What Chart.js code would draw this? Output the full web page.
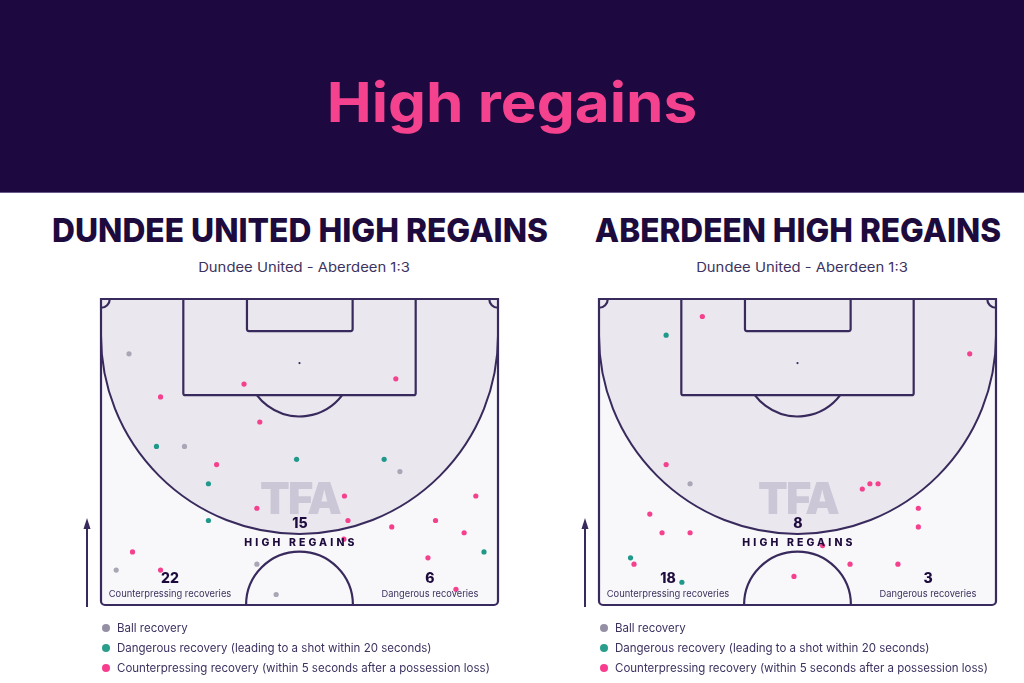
<!DOCTYPE html>
<html>
<head>
<meta charset="utf-8">
<script src="https://cdn.jsdelivr.net/npm/chart.js@4.4.1/dist/chart.umd.min.js"></script>
<style>
  body { margin: 0; width: 1024px; height: 683px; background: #fff; overflow: hidden; position: relative; font-family: Inter, "Noto Sans", sans-serif; }
  .header { position: absolute; left: 0; top: 0; width: 1024px; height: 192px; background: #1d0940; border-bottom: 1px solid #6a5a8a; }
  .t { position: absolute; white-space: nowrap; transform: translate(-50%, -50%); line-height: 1; }
  .main { font-size: 55px; font-weight: 700; color: #f5428f; }
  .ptitle { font-size: 33px; font-weight: 800; color: #1e0b3e; }
  .sub { font-size: 13px; color: #3d3260; }
  .big { font-size: 14px; font-weight: 800; color: #1e0b3e; }
  .lab { font-size: 9.5px; color: #3d3260; }
  .hr { font-size: 10px; font-weight: 800; color: #1e0b3e; letter-spacing: 3px; }
  .wm { font-size: 44px; font-weight: 900; color: rgba(150, 140, 170, 0.35); letter-spacing: -2px; }
  .pitch { position: absolute; }
  .legend { position: absolute; font-size: 11.5px; color: #3d3260; }
  .legend div { height: 20px; line-height: 20px; position: relative; padding-left: 17px; white-space: nowrap; }
  .legend span { position: absolute; left: 1.5px; top: 6px; width: 8px; height: 8px; border-radius: 50%; }
</style>
</head>
<body>
<div class="header"></div>
<div class="pitch" style="left:71px; top:289px; width:437px; height:326px;"><canvas id="pitch1"></canvas></div>
<div class="pitch" style="left:569px; top:289px; width:437px; height:326px;"><canvas id="pitch2"></canvas></div>
<script>
// recoveries, in metres: x across the pitch (0-68), y up from the halfway line (0-52.5)
const dundeeBall = [[4.8, 43.1], [14.3, 27.2], [51.2, 22.9], [26.7, 7.0], [2.6, 6.0], [30.0, 1.8]];
const dundeeDanger = [[9.5, 27.2], [33.5, 25.0], [48.5, 25.0], [18.4, 20.8], [18.4, 14.5], [65.6, 9.1]];
const dundeeCounter = [[24.5, 37.9], [50.5, 38.8], [10.2, 35.7], [27.2, 31.4], [19.8, 24.1], [41.7, 18.7],
    [64.2, 18.7], [26.7, 16.6], [42.3, 14.5], [57.3, 14.5], [49.8, 13.4], [62.2, 12.4], [41.6, 11.3],
    [5.4, 9.1], [56.0, 8.1], [10.2, 6.0], [60.8, 2.7]];

const aberdeenBall = [[15.6, 20.8]];
const aberdeenDanger = [[11.5, 46.3], [5.4, 8.1], [14.2, 3.9]];
const aberdeenCounter = [[17.7, 49.5], [63.5, 43.1], [11.5, 24.1], [45.1, 19.9], [46.4, 20.8], [47.8, 20.8],
    [54.7, 16.6], [8.7, 15.6], [54.7, 13.4], [10.8, 12.4], [15.6, 12.4], [38.3, 10.2], [6.0, 7.0],
    [43.0, 7.0], [51.2, 7.0], [33.4, 4.9]];

const teams = ['DUNDEE UNITED', 'ABERDEEN'];
const matchLabel = 'Dundee United - Aberdeen 1:3';
const highRegains = [15, 8];
const counterRecoveries = [22, 18];
const dangerRecoveries = [6, 3];
const legendLabels = ['Ball recovery', 'Dangerous recovery (leading to a shot within 20 seconds)',
    'Counterpressing recovery (within 5 seconds after a possession loss)'];

const colors = ['#aaa6b6', '#21998a', '#f4418e'];
const legendColors = ['#958fa5', '#2a9d8c', '#f93d8e'];
const lineColor = '#382a5c';

function text(str, cls, cx, cy, w) {
    const el = document.createElement('div');
    el.className = 't ' + cls;
    el.textContent = str;
    el.style.left = cx + 'px';
    el.style.top = cy + 'px';
    document.body.appendChild(el);
    if (w) {
        const k = w / el.offsetWidth;
        el.style.transform = `translate(-50%, -50%) scaleX(${k})`;
    }
    return el;
}

const pitchMarkings = {
    id: 'pitchMarkings',
    beforeDatasetsDraw(chart) {
        const {ctx, chartArea: a, scales: {x, y}} = chart;
        const px = v => x.getPixelForValue(v);
        const py = v => y.getPixelForValue(v);
        const rx = m => Math.abs(px(m) - px(0));
        const ry = m => Math.abs(py(m) - py(0));
        ctx.save();
        // pitch background
        ctx.fillStyle = '#f8f7f9';
        ctx.beginPath();
        ctx.roundRect(a.left, a.top, a.width, a.height, [0, 0, 4, 4]);
        ctx.fill();
        // high regain zone
        const zoneY = 46.2, zoneR = 34;
        ctx.fillStyle = '#eae7ef';
        ctx.beginPath();
        ctx.moveTo(px(0), py(52.5));
        ctx.lineTo(px(0), py(zoneY));
        ctx.ellipse(px(34), py(zoneY), rx(zoneR), ry(zoneR), 0, Math.PI, 0, true);
        ctx.lineTo(px(68), py(52.5));
        ctx.closePath();
        ctx.fill();
        ctx.strokeStyle = lineColor;
        ctx.lineWidth = 2;
        ctx.beginPath();
        ctx.ellipse(px(34), py(zoneY), rx(zoneR), ry(zoneR), 0, Math.PI, 0, true);
        ctx.stroke();
        // boxes
        ctx.lineWidth = 2.2;
        ctx.beginPath();
        ctx.roundRect(px(14.1), py(52.5), rx(39.8), ry(16.5), [0, 0, 2, 2]);
        ctx.stroke();
        ctx.beginPath();
        ctx.roundRect(px(25.0), py(52.5), rx(18.1), ry(5.5), [0, 0, 2, 2]);
        ctx.stroke();
        // penalty spot and arc
        ctx.fillStyle = lineColor;
        ctx.beginPath();
        ctx.arc(px(34), py(41.5), 1.1, 0, Math.PI * 2);
        ctx.fill();
        const half = Math.acos(5.5 / 9.15);
        ctx.beginPath();
        ctx.ellipse(px(34), py(41.5), rx(9.15), ry(9.15), 0, Math.PI / 2 - half, Math.PI / 2 + half);
        ctx.stroke();
        // centre circle
        ctx.beginPath();
        ctx.ellipse(px(34), py(0), rx(9.15), ry(9.15), 0, Math.PI, Math.PI * 2);
        ctx.stroke();
        // corner arcs
        ctx.beginPath();
        ctx.ellipse(px(0), py(52.5), rx(1.5), ry(1.5), 0, 0, Math.PI / 2);
        ctx.stroke();
        ctx.beginPath();
        ctx.ellipse(px(68), py(52.5), rx(1.5), ry(1.5), 0, Math.PI / 2, Math.PI);
        ctx.stroke();
        // outline
        ctx.beginPath();
        ctx.roundRect(a.left, a.top, a.width, a.height, [0, 0, 4, 4]);
        ctx.stroke();
        // attack direction arrow
        const ax = a.left - 14;
        ctx.lineWidth = 2;
        ctx.beginPath();
        ctx.moveTo(ax, a.bottom + 2);
        ctx.lineTo(ax, a.bottom - 80);
        ctx.stroke();
        ctx.beginPath();
        ctx.moveTo(ax, a.bottom - 87);
        ctx.lineTo(ax - 3.5, a.bottom - 76);
        ctx.lineTo(ax + 3.5, a.bottom - 76);
        ctx.closePath();
        ctx.fill();
        ctx.restore();
    }
};

function pitchChart(id, ball, danger, counter) {
    const ctx = document.getElementById(id);
    const toPts = arr => arr.map(p => ({x: p[0], y: p[1]}));
    return new Chart(ctx, {
        type: 'scatter',
        data: {
            datasets: [
                {label: legendLabels[2], data: toPts(counter), backgroundColor: colors[2]},
                {label: legendLabels[1], data: toPts(danger), backgroundColor: colors[1]},
                {label: legendLabels[0], data: toPts(ball), backgroundColor: colors[0]}
            ]
        },
        options: {
            responsive: true,
            maintainAspectRatio: false,
            animation: false,
            layout: {padding: {left: 30, right: 10, top: 10, bottom: 10}},
            elements: {point: {radius: 2.6, borderWidth: 0, hoverRadius: 2.6}},
            scales: {
                x: {type: 'linear', min: 0, max: 68, display: false},
                y: {type: 'linear', min: 0, max: 52.5, display: false}
            },
            plugins: {legend: {display: false}, tooltip: {enabled: false}}
        },
        plugins: [pitchMarkings]
    });
}

pitchChart('pitch1', dundeeBall, dundeeDanger, dundeeCounter);
pitchChart('pitch2', aberdeenBall, aberdeenDanger, aberdeenCounter);

text('High regains', 'main', 512, 102, 370);

const centres = [300, 798];
const titleWidths = [496, 406];
centres.forEach((cx, i) => {
    text(teams[i] + ' HIGH REGAINS', 'ptitle', cx, 230, titleWidths[i]);
    text(matchLabel, 'sub', cx + 4, 267, 212);
    text('TFA', 'wm', cx, 498, 80);
    text(String(highRegains[i]), 'big', cx, 523);
    text('HIGH REGAINS', 'hr', cx + 1, 542, 113);
    text(String(counterRecoveries[i]), 'big', cx - 130, 578);
    text('Counterpressing recoveries', 'lab', cx - 130, 594, 123);
    text(String(dangerRecoveries[i]), 'big', cx + 130, 578);
    text('Dangerous recoveries', 'lab', cx + 130, 594, 97);

    const lg = document.createElement('div');
    lg.className = 'legend';
    lg.style.left = (cx - 200) + 'px';
    lg.style.top = '618px';
    legendLabels.forEach((l, j) => {
        const row = document.createElement('div');
        row.innerHTML = `<span style="background:${legendColors[j]}"></span>`;
        row.appendChild(document.createTextNode(l));
        lg.appendChild(row);
    });
    document.body.appendChild(lg);
});
</script>
</body>
</html>
